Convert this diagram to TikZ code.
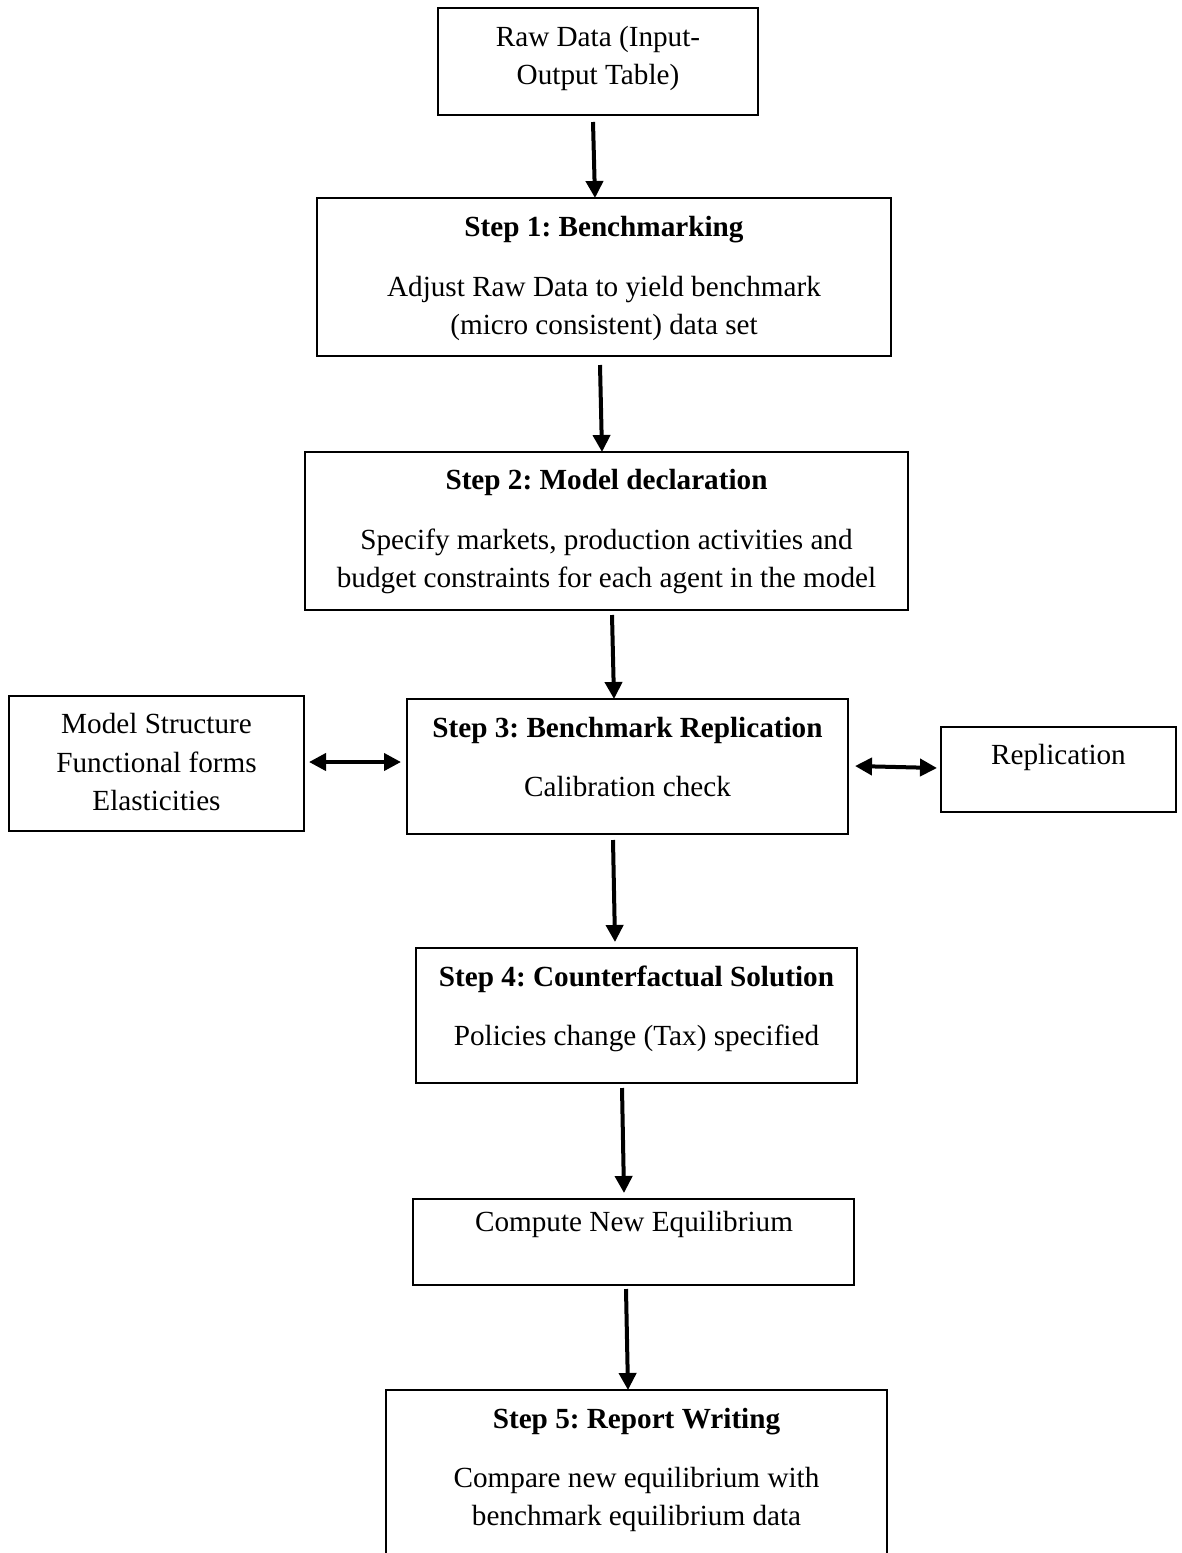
\documentclass[tikz,border=0pt]{standalone}
\usepackage{fontspec}
\setmainfont{Liberation Serif}
\frenchspacing
\usetikzlibrary{arrows.meta}
\tikzset{
  box/.style={draw, line width=0.75pt, inner sep=0pt, outer sep=0pt},
  txt/.style={anchor=base, inner sep=0pt, font=\fontsize{14.6}{19}\selectfont},
  ttl/.style={txt, font=\fontsize{14.6}{19}\selectfont\bfseries},
  arr/.style={line width=2pt, -{Triangle[width=8.5pt,length=8.5pt]}},
  darr/.style={line width=2pt, {Triangle[width=8.5pt,length=8.5pt]}-{Triangle[width=8.5pt,length=8.5pt]}}
}
\begin{document}
\begin{tikzpicture}[x=0.5pt,y=-0.5pt]
\useasboundingbox (0,0) rectangle (1182,1553);
\clip (0,0) rectangle (1182,1553);
% boxes
\node[box, minimum width=160pt, minimum height=53.5pt] (raw) at (598,61.5) {};
\node[box, minimum width=287pt, minimum height=79pt] (s1) at (604,277) {};
\node[box, minimum width=301.5pt, minimum height=79pt] (s2) at (606.5,531) {};
\node[box, minimum width=220.5pt, minimum height=67.5pt] (s3) at (627.5,766.5) {};
\node[box, minimum width=147.5pt, minimum height=67.5pt] (lft) at (156.5,763.5) {};
\node[box, minimum width=117.5pt, minimum height=42.5pt] (rep) at (1058.5,769.5) {};
\node[box, minimum width=220.5pt, minimum height=67.5pt] (s4) at (636.5,1015.5) {};
\node[box, minimum width=220.5pt, minimum height=43pt] (comp) at (633.5,1242) {};
\node[box, minimum width=250.5pt, minimum height=95pt] (s5) at (636.5,1485) {};
% texts
\node[txt] (t0a) at (598,46) {Raw Data (Input-};
\node[txt] (t0b) at (598,84) {Output Table)};
\node[ttl] (t1) at (604,236) {Step 1: Benchmarking};
\node[txt] (t1a) at (604,296) {Adjust Raw Data to yield benchmark};
\node[txt] (t1b) at (604,334) {(micro consistent) data set};
\node[ttl] (t2) at (606.5,489) {Step 2: Model declaration};
\node[txt] (t2a) at (606.5,549) {Specify markets, production activities and};
\node[txt] (t2b) at (606.5,587) {budget constraints for each agent in the model};
\node[ttl] (t3) at (627.5,737) {Step 3: Benchmark Replication};
\node[txt] (t3a) at (627.5,796) {Calibration check};
\node[txt] (tla) at (156.5,733) {Model Structure};
\node[txt] (tlb) at (156.5,772) {Functional forms};
\node[txt] (tlc) at (156.5,810) {Elasticities};
\node[txt] (tr) at (1058.5,764) {Replication};
\node[ttl] (t4) at (636.5,986) {Step 4: Counterfactual Solution};
\node[txt] (t4a) at (636.5,1045) {Policies change (Tax) specified};
\node[txt] (tc) at (634,1231) {Compute New Equilibrium};
\node[ttl] (t5) at (636.5,1428) {Step 5: Report Writing};
\node[txt] (t5a) at (636.5,1487) {Compare new equilibrium with};
\node[txt] (t5b) at (636.5,1525) {benchmark equilibrium data};
% arrows
\draw[arr] ([xshift=-2.5pt,yshift=-3.5pt]raw.south) -- ([xshift=-4.5pt]s1.north);
\draw[arr] ([xshift=-2pt,yshift=-4.5pt]s1.south) -- ([xshift=-2.25pt]s2.north);
\draw[arr] ([xshift=2.75pt,yshift=-2.5pt]s2.south) -- ([xshift=-6.75pt]s3.north);
\draw[arr] ([xshift=-7.25pt,yshift=-3pt]s3.south) -- ([xshift=-10.75pt,yshift=3pt]s4.north);
\draw[arr] ([xshift=-7.25pt,yshift=-2.5pt]s4.south) -- ([xshift=-4.75pt,yshift=3pt]comp.north);
\draw[arr] ([xshift=-3.75pt,yshift=-2pt]comp.south) -- ([xshift=-4.25pt]s5.north);
\draw[darr] ([xshift=2.5pt,yshift=0.75pt]lft.east) -- ([xshift=-3pt,yshift=2.25pt]s3.west);
\draw[darr] ([xshift=3.5pt,yshift=0.25pt]s3.east) -- ([xshift=-2pt,yshift=0.75pt]rep.west);
\end{tikzpicture}
\end{document}
